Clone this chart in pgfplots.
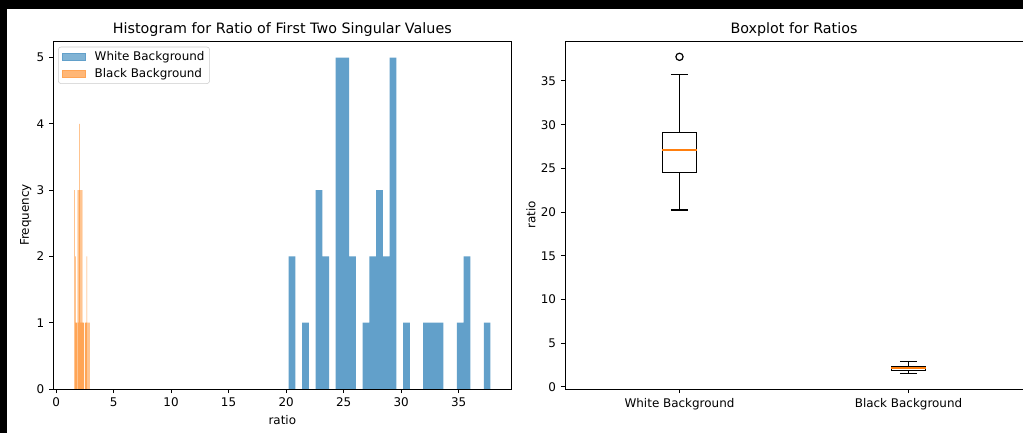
\documentclass[border=0pt]{standalone}
\usepackage{pgfplots}
\pgfplotsset{compat=1.18}
\usepgfplotslibrary{statistics}
\usepackage{fontspec}
\setmainfont{DejaVu Sans}
\definecolor{mblue}{HTML}{62A0CA}
\definecolor{morange}{HTML}{FFA556}
\definecolor{cone}{HTML}{FF7F0E}

\begin{document}
\begin{tikzpicture}
\fill[black] (0bp,0bp) rectangle (736.56bp,311.76bp);
\fill[white] (5.04bp,0bp) rectangle (736.56bp,305.28bp);
\pgfplotsset{
 every axis/.append style={
  scale only axis, width=329.76bp, height=250.56bp,
  axis line style={line width=0.69bp},
  tick align=outside, tick pos=left, major tick length=3bp,
  every tick/.append style={black, line width=0.69bp},
  tick label style={font=\fontsize{8.6bp}{10bp}\selectfont},
  /pgf/number format/assume math mode=true,
  label style={font=\fontsize{8.6bp}{10bp}\selectfont},
  ylabel style={yshift=-3bp},
  xlabel style={yshift=1bp},
  title style={font=\fontsize{10.3bp}{12bp}\selectfont, yshift=-6.5bp},
 }
}
\begin{axis}[
  at={(38.38bp,31.68bp)}, anchor=south west,
  xmin=-0.24, xmax=39.58, ymin=0, ymax=5.25,
  xtick={0,5,...,35}, ytick={0,1,...,5},
  xlabel={ratio}, ylabel={Frequency},
  title={Histogram for Ratio of First Two Singular Values},
  legend style={at={(0.0103,0.9836)}, anchor=north west, draw=black!20,
    rounded corners=2bp, font=\fontsize{8.6bp}{10bp}\selectfont,
    fill=white, fill opacity=0.8, text opacity=1,
    inner xsep=2.5bp, inner ysep=2bp, row sep=1.5bp, column sep=5.5bp,
    nodes={inner sep=1.2bp}},
  legend cell align=left,
]
\addplot[ybar interval, fill=mblue, draw=none, forget plot] coordinates {
(20.220,2) (20.805,0) (21.390,1) (21.975,0) (22.560,3) (23.145,2)
(23.730,0) (24.315,5) (24.900,5) (25.485,2) (26.070,0) (26.655,1)
(27.240,2) (27.825,3) (28.410,2) (28.995,5) (29.580,0) (30.165,1)
(30.750,0) (31.335,0) (31.920,1) (32.505,1) (33.090,1) (33.675,0)
(34.260,0) (34.845,1) (35.430,2) (36.015,0) (36.600,0) (37.185,1)
(37.770,0)};
\addplot[ybar interval, fill=morange, draw=none, forget plot] coordinates {
(1.570,3) (1.615,0) (1.660,2) (1.705,1) (1.750,1) (1.795,1)
(1.840,0) (1.885,3) (1.930,1) (1.975,3) (2.020,4) (2.065,3)
(2.110,1) (2.155,3) (2.200,1) (2.245,3) (2.290,1) (2.335,1)
(2.380,1) (2.425,0) (2.470,0) (2.515,1) (2.560,1) (2.605,1)
(2.650,2) (2.695,1) (2.740,0) (2.785,1) (2.830,0) (2.875,1)
(2.920,0)};
\addlegendimage{legend image code/.code={\fill[mblue, sharp corners] (0bp,-2.65bp) rectangle (16.6bp,2.65bp);}}
\addlegendentry{White Background}
\addlegendimage{legend image code/.code={\fill[morange, sharp corners] (0bp,-2.65bp) rectangle (16.6bp,2.65bp);}}
\addlegendentry{Black Background}
\end{axis}

\begin{axis}[
  at={(406.8bp,31.68bp)}, anchor=south west,
  xmin=0.5, xmax=2.5, ymin=-0.24, ymax=39.57,
  xtick={1,2}, xticklabels={White Background, Black Background},
  ytick={0,5,...,35},
  ylabel={ratio},
  title={Boxplot for Ratios},
  boxplot/draw direction=y,
]
\addplot[black, line width=0.86bp, solid, mark=o, mark size=2.6bp,
  mark options={black, line width=0.86bp},
  boxplot/draw direction=y,
  boxplot prepared={median=27.12, upper quartile=29.07, lower quartile=24.56,
    upper whisker=35.77, lower whisker=20.24, draw position=1,
    box extend=0.15, whisker extend=0.075,
    every median/.style={draw=cone, line width=1.1bp}}]
  table[row sep=\\, y index=0] {37.76\\};
\addplot[black, line width=0.86bp, solid, mark=none,
  boxplot/draw direction=y,
  boxplot prepared={median=2.14, upper quartile=2.37, lower quartile=1.91,
    upper whisker=2.95, lower whisker=1.57, draw position=2,
    box extend=0.15, whisker extend=0.075,
    every median/.style={draw=cone, line width=1.1bp}}]
  coordinates {};
\end{axis}
\pgfresetboundingbox
\path[use as bounding box] (0bp,0bp) rectangle (736.56bp,311.76bp);
\end{tikzpicture}
\end{document}
